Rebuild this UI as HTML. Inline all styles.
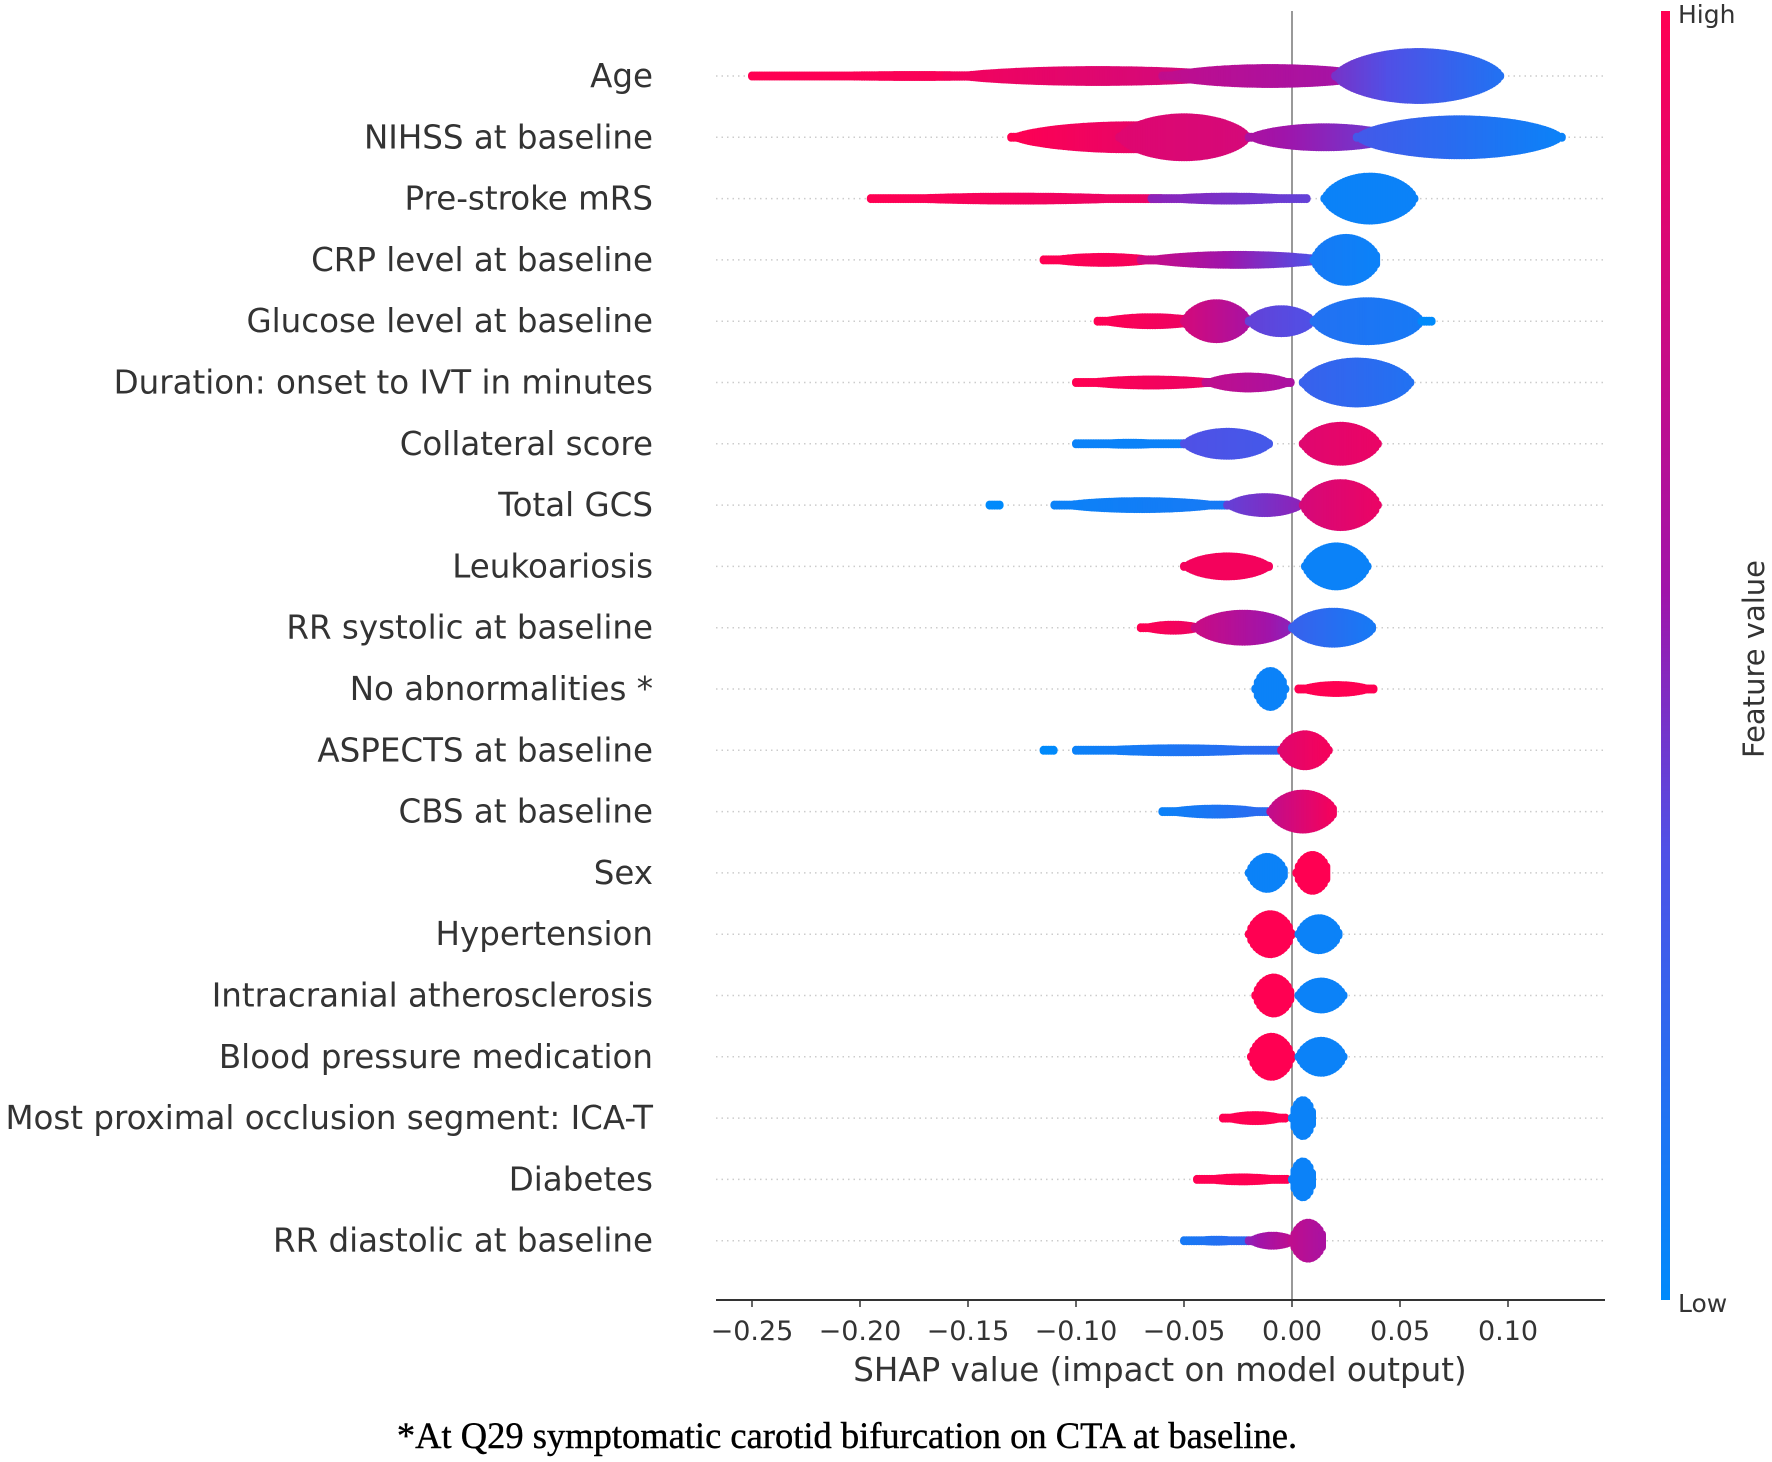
<!DOCTYPE html>
<html><head><meta charset="utf-8"><style>
html,body{margin:0;padding:0;background:#fff;}
svg{display:block;}
</style></head><body>
<svg id="chart" width="1772" height="1462" viewBox="0 0 1772 1462" xmlns="http://www.w3.org/2000/svg">
<defs>
<linearGradient id="cbar" x1="0" y1="1" x2="0" y2="0">
<stop offset="0" stop-color="rgb(0,138,251)"/>
<stop offset="0.35" stop-color="rgb(80,80,230)"/>
<stop offset="0.55" stop-color="rgb(160,20,170)"/>
<stop offset="1" stop-color="rgb(255,0,82)"/>
</linearGradient>
</defs>
<g id="grid"></g>
<line x1="1292" y1="11" x2="1292" y2="1300" stroke="#999" stroke-width="2"/>
<g id="dots"></g>
<g id="labels" font-family="DejaVu Sans, Liberation Sans, sans-serif" font-size="32.5" fill="#333" text-anchor="end"></g>
<line x1="716" y1="1300" x2="1605" y2="1300" stroke="#333" stroke-width="2"/>
<g id="xticks" font-family="DejaVu Sans, Liberation Sans, sans-serif" font-size="27" fill="#333" text-anchor="middle"></g>
<text x="1160" y="1381" font-family="DejaVu Sans, Liberation Sans, sans-serif" font-size="32.5" fill="#333" text-anchor="middle">SHAP value (impact on model output)</text>
<rect x="1661" y="11" width="9" height="1289" fill="url(#cbar)"/>
<text x="1678" y="23" font-family="DejaVu Sans, Liberation Sans, sans-serif" font-size="25" fill="#333">High</text>
<text x="1678" y="1312" font-family="DejaVu Sans, Liberation Sans, sans-serif" font-size="25" fill="#333">Low</text>
<text transform="translate(1764,659) rotate(-90)" font-family="DejaVu Sans, Liberation Sans, sans-serif" font-size="29" fill="#333" text-anchor="middle">Feature value</text>
<text x="847" y="1448" font-family="Liberation Serif, serif" font-size="36.5" fill="#000" stroke="#000" stroke-width="0.4" text-anchor="middle">*At Q29 symptomatic carotid bifurcation on CTA at baseline.</text>
</svg>
<script>
const features = ["Age","NIHSS at baseline","Pre-stroke mRS","CRP level at baseline","Glucose level at baseline","Duration: onset to IVT in minutes","Collateral score","Total GCS","Leukoariosis","RR systolic at baseline","No abnormalities *","ASPECTS at baseline","CBS at baseline","Sex","Hypertension","Intracranial atherosclerosis","Blood pressure medication","Most proximal occlusion segment: ICA-T","Diabetes","RR diastolic at baseline"];
const tickValues = [-0.25,-0.20,-0.15,-0.10,-0.05,0.00,0.05,0.10];
const tickLabels = ["\u22120.25","\u22120.20","\u22120.15","\u22120.10","\u22120.05","0.00","0.05","0.10"];
// clusters per feature: [shapStart, shapEnd, halfHeight, featureValueStart, featureValueEnd]
const clusters = [
 [[-0.25,-0.10,5,1,0.95],[-0.16,-0.02,10,0.95,0.75],[-0.06,0.04,12,0.7,0.55],[0.02,0.097,28,0.45,0.15]],
 [[-0.13,-0.02,16,1,0.8],[-0.08,-0.02,24,0.85,0.8],[-0.02,0.05,14,0.6,0.4],[0.03,0.125,22,0.3,0.05]],
 [[-0.195,-0.06,6,1,0.9],[-0.065,0.007,6,0.5,0.4],[0.015,0.057,26,0.05,0.05]],
 [[-0.115,-0.06,7,1,0.95],[-0.07,0.02,9,0.75,0.3],[0.01,0.04,26,0.1,0.05]],
 [[-0.09,-0.04,8,1,0.9],[-0.05,-0.02,22,0.8,0.6],[-0.02,0.01,16,0.4,0.35],[0.01,0.06,24,0.15,0.1],[0.06,0.065,3,0,0]],
 [[-0.10,-0.03,7,1,0.9],[-0.04,0.0,10,0.7,0.6],[0.005,0.055,25,0.25,0.15]],
 [[-0.10,-0.05,5,0.05,0.05],[-0.05,-0.01,16,0.35,0.3],[0.005,0.04,22,0.85,0.9]],
 [[-0.14,-0.135,3,0,0],[-0.11,-0.03,8,0.05,0.1],[-0.03,0.005,12,0.4,0.5],[0.005,0.04,26,0.8,0.9]],
 [[-0.05,-0.01,14,0.95,0.95],[0.006,0.035,24,0.05,0.05]],
 [[-0.07,-0.04,7,1,0.9],[-0.045,0.0,18,0.75,0.5],[0.0,0.038,20,0.25,0.1]],
 [[-0.017,-0.003,22,0.05,0.05],[0.003,0.038,8,1,1]],
 [[-0.115,-0.11,3,0,0],[-0.10,-0.005,6,0.05,0.2],[-0.005,0.017,20,0.85,0.95]],
 [[-0.06,-0.01,7,0.05,0.2],[-0.01,0.02,22,0.7,0.95]],
 [[-0.02,-0.003,20,0.05,0.05],[0.002,0.017,22,1,1]],
 [[-0.02,0.0,24,1,1],[0.003,0.022,20,0.05,0.05]],
 [[-0.017,0.0,22,1,1],[0.003,0.024,18,0.05,0.05]],
 [[-0.019,0.0,24,1,1],[0.003,0.024,20,0.05,0.05]],
 [[-0.032,-0.002,7,1,1],[0.0,0.01,22,0.05,0.05]],
 [[-0.044,-0.002,6,1,1],[0.0,0.01,22,0.05,0.05]],
 [[-0.05,-0.02,5,0.1,0.2],[-0.02,0.002,9,0.5,0.7],[0.0,0.015,22,0.7,0.6]]
];
const NS="http://www.w3.org/2000/svg";
function xScale(v){return 1292+v*2160;}
function yScale(i){return 76+i*61.3;}
function color(t){
  const st=[[0,0,138,251],[0.35,80,80,230],[0.55,160,20,170],[1,255,0,82]];
  for(let k=1;k<st.length;k++){ if(t<=st[k][0]){const a=st[k-1],b=st[k];const u=(t-a[0])/(b[0]-a[0]);
    return `rgb(${Math.round(a[1]+(b[1]-a[1])*u)},${Math.round(a[2]+(b[2]-a[2])*u)},${Math.round(a[3]+(b[3]-a[3])*u)})`;}}
  return "rgb(255,0,82)";
}
const grid=document.getElementById('grid'),dots=document.getElementById('dots'),labels=document.getElementById('labels'),xt=document.getElementById('xticks');
features.forEach((f,i)=>{
  const y=yScale(i);
  const gl=document.createElementNS(NS,'line');
  gl.setAttribute('x1',716);gl.setAttribute('x2',1605);gl.setAttribute('y1',y);gl.setAttribute('y2',y);
  gl.setAttribute('stroke','#ccc');gl.setAttribute('stroke-width','1.5');gl.setAttribute('stroke-dasharray','1.5 4');
  
  
  grid.appendChild(gl);
  const t=document.createElementNS(NS,'text');
  t.setAttribute('x',653);t.setAttribute('y',y+11);t.textContent=f;
  
  
  labels.appendChild(t);
  const g=document.createElementNS(NS,'g');
  
  
  clusters[i].forEach(c=>{
    const x0=xScale(c[0]),x1=xScale(c[1]);const w=Math.max(1,x1-x0);
    for(let x=x0;x<=x1+0.01;x+=2.5){
      const u=(x-x0)/w;const p=Math.sqrt(Math.max(0,Math.sin(Math.PI*Math.min(1,Math.max(0,u)))));
      const h=Math.max(0.5,c[2]*p-4);
      const ln=document.createElementNS(NS,'line');
      ln.setAttribute('x1',x.toFixed(1));ln.setAttribute('x2',x.toFixed(1));
      ln.setAttribute('y1',(y-h).toFixed(1));ln.setAttribute('y2',(y+h).toFixed(1));
      ln.setAttribute('stroke',color(c[3]+(c[4]-c[3])*u));ln.setAttribute('stroke-width','8');ln.setAttribute('stroke-linecap','round');
      
      
      g.appendChild(ln);
    }
  });
  dots.appendChild(g);
});
tickValues.forEach((v,k)=>{
  const x=xScale(v);
  const tk=document.createElementNS(NS,'line');
  tk.setAttribute('x1',x);tk.setAttribute('x2',x);tk.setAttribute('y1',1300);tk.setAttribute('y2',1307);tk.setAttribute('stroke','#333');tk.setAttribute('stroke-width','1.5');
  
  
  xt.appendChild(tk);
  const tl=document.createElementNS(NS,'text');
  tl.setAttribute('x',x);tl.setAttribute('y',1340);tl.textContent=tickLabels[k];
  
  
  xt.appendChild(tl);
});
</script>
</body></html>
